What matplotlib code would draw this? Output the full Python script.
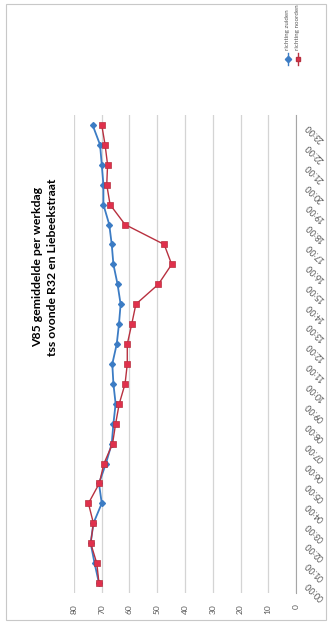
import matplotlib.pyplot as plt
from matplotlib.lines import Line2D
from matplotlib.patches import Rectangle

# V85 per hour of a working day, both directions (km/h)
hours = ['%02d:00' % h for h in range(24)]
zuiden = [71.0, 72.6, 74.0, 73.0, 70.0, 71.0, 68.5, 66.4, 65.8, 65.0, 65.8, 66.2,
          64.6, 63.8, 63.2, 64.3, 65.8, 66.4, 67.3, 69.4, 69.4, 70.0, 70.6, 73.3]
noorden = [71.0, 71.8, 74.0, 73.0, 74.8, 70.9, 69.2, 66.1, 65.0, 63.7, 61.6, 60.8,
           60.8, 59.2, 57.7, 49.6, 44.8, 47.5, 61.6, 67.0, 68.2, 67.9, 68.8, 70.0]
value_ticks = [0, 10, 20, 30, 40, 50, 60, 70, 80]

blue = '#3c7cc4'
red_line = '#b8303f'
red_fill = '#e0304c'
grey_txt = '#595959'

W, H = 331, 631
fig = plt.figure(figsize=(W / 100, H / 100), dpi=100)
fig.patch.set_facecolor('white')

# chart frame
fig.add_artist(Rectangle((6 / W, 1 - 620 / H), 320 / W, 616 / H,
                         transform=fig.transFigure, fill=False,
                         edgecolor='#c8c8c8', linewidth=0.8))

# chart is laid out turned on its side: hours run up, speed runs right-to-left
ax = fig.add_axes([74 / W, 38 / H, 222 / W, 478 / H])
pos = list(range(len(hours)))
ax.plot(zuiden, pos, color=blue, lw=1.3, marker='D', ms=3.0,
        mfc=blue, mec=blue, zorder=3)
ax.plot(noorden, pos, color=red_line, lw=1.0, marker='s', ms=4.6,
        mfc=red_fill, mec=red_line, mew=0.5, zorder=4)

ax.set_xlim(80, 0)
ax.set_ylim(-0.5, 23.5)
ax.set_xticks(value_ticks)
ax.set_xticklabels([str(v) for v in value_ticks], rotation=90,
                   fontsize=6, color=grey_txt, family='Lato')
ax.tick_params(axis='x', length=0, pad=8)
ax.grid(axis='x', color='#d4d4d4', lw=0.9)
ax.set_axisbelow(True)

ax.yaxis.tick_right()
ax.set_yticks(pos)
ax.set_yticklabels(hours, rotation=135, fontsize=6.3, color=grey_txt,
                   family='Lato', rotation_mode='anchor', ha='right', va='center')
ax.tick_params(axis='y', length=0, pad=8)

for side in ['top', 'bottom', 'left']:
    ax.spines[side].set_visible(False)
ax.spines['right'].set_color('#a6a6a6')
ax.spines['right'].set_linewidth(0.8)

# title
fig.text(38 / W, 1 - 267 / H, 'V85 gemiddelde per werkdag', rotation=90,
         ha='center', va='center', fontsize=8.8, fontweight='bold', family='Lato')
fig.text(53 / W, 1 - 267 / H, 'tss ovonde R32 en Liebeekstraat', rotation=90,
         ha='center', va='center', fontsize=8.8, fontweight='bold', family='Lato')

# legend, drawn by hand so it can stand upright along the top
legend = [(288, blue, 'D', blue, 'richting zuiden'),
          (298, red_line, 's', red_fill, 'richting noorden')]
for x, col, mk, mfc, label in legend:
    fig.add_artist(Line2D([x / W, x / W], [1 - 65 / H, 1 - 53 / H],
                          transform=fig.transFigure, color=col, lw=1.0))
    fig.add_artist(Line2D([x / W], [1 - 59 / H], transform=fig.transFigure,
                          color=col, marker=mk, ms=3.2, mfc=mfc, mec=col, lw=0))
    fig.text(x / W, 1 - 50 / H, label, rotation=90, ha='center', va='bottom',
             fontsize=4.5, color=grey_txt, family='Lato')

fig.savefig('out.png', dpi=100)
